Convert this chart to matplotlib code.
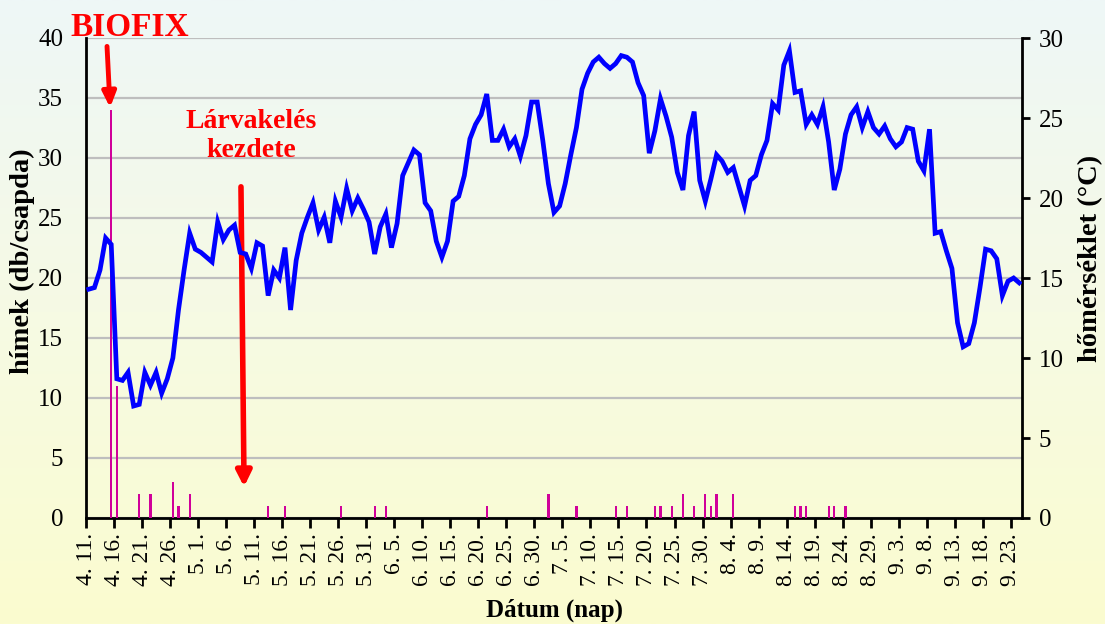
import numpy as np
import pandas as pd
import matplotlib
matplotlib.use('Agg')
import matplotlib.pyplot as plt
from matplotlib.colors import LinearSegmentedColormap

plt.rcParams['font.family'] = ['Liberation Serif', 'DejaVu Serif']

# napi középhőmérséklet (°C), 4.11.-től naponta
start = '2003-04-11'
temperature = [
    14.3, 14.4, 15.5, 17.5, 17.1, 8.7, 8.6, 9.1, 7.0, 7.1,
    9.1, 8.3, 9.1, 7.8, 8.7, 10.0, 13.0, 15.5, 17.8, 16.8,
    16.6, 16.3, 16.0, 18.5, 17.4, 18.0, 18.3, 16.6, 16.5, 15.6,
    17.2, 17.0, 13.9, 15.5, 15.0, 16.9, 13.0, 16.1, 17.8, 18.8,
    19.7, 18.0, 18.8, 17.2, 19.8, 18.8, 20.6, 19.2, 20.0, 19.3,
    18.5, 16.5, 18.2, 19.0, 16.9, 18.4, 21.4, 22.2, 23.0, 22.7,
    19.7, 19.2, 17.3, 16.3, 17.3, 19.8, 20.1, 21.4, 23.7, 24.6,
    25.2, 26.5, 23.6, 23.6, 24.3, 23.2, 23.7, 22.6, 23.9, 26.0,
    26.0, 23.6, 20.9, 19.1, 19.5, 20.9, 22.7, 24.4, 26.8, 27.8,
    28.5, 28.8, 28.4, 28.1, 28.4, 28.9, 28.8, 28.5, 27.2, 26.4,
    22.8, 24.2, 26.2, 25.1, 23.8, 21.6, 20.5, 23.9, 25.4, 21.1,
    19.8, 21.2, 22.7, 22.3, 21.6, 21.9, 20.7, 19.5, 21.1, 21.4,
    22.7, 23.6, 25.9, 25.5, 28.3, 29.2, 26.6, 26.7, 24.6, 25.2,
    24.6, 25.7, 23.5, 20.5, 21.8, 24.0, 25.2, 25.7, 24.4, 25.4,
    24.4, 24.0, 24.5, 23.7, 23.2, 23.5, 24.4, 24.3, 22.3, 21.7,
    24.3, 17.8, 17.9, 16.7, 15.6, 12.2, 10.7, 10.9, 12.2, 14.4,
    16.8, 16.7, 16.2, 13.9, 14.8, 15.0, 14.7,
]

# csapdafogások (hímek, db/csapda)
catch_dates = ['04-15', '04-16', '04-20', '04-22', '04-26', '04-27', '04-29',
               '05-13', '05-16', '05-26', '06-01', '06-03', '06-21', '07-02',
               '07-07', '07-14', '07-16', '07-21', '07-22', '07-24', '07-26',
               '07-28', '07-30', '07-31', '08-01', '08-04', '08-15', '08-16',
               '08-17', '08-21', '08-22', '08-24']
catch_counts = [34, 11, 2, 2, 3, 1, 2,
                1, 1, 1, 1, 1, 1, 2,
                1, 1, 1, 1, 1, 1, 2,
                1, 2, 1, 2, 2, 1, 1,
                1, 1, 1, 1]

t0 = pd.Timestamp(start)
x_temp = np.arange(len(temperature)) + 0.5
x_catch = np.array([(pd.Timestamp('2003-' + d) - t0).days for d in catch_dates]) + 0.5

tick_pos = np.arange(0, 166, 5)
tick_lab = [f'{d.month}. {d.day}.' for d in pd.date_range(t0, periods=len(tick_pos), freq='5D')]

fig = plt.figure(figsize=(11.05, 6.24), dpi=100)

# háttér színátmenet
bg = fig.add_axes([0, 0, 1, 1], zorder=-10)
cmap = LinearSegmentedColormap.from_list('bg', ['#EEF7F7', '#F6FAE4', '#FBFCCF'])
bg.imshow(np.linspace(0, 1, 256).reshape(-1, 1), aspect='auto', cmap=cmap,
          extent=[0, 1, 0, 1])
bg.axis('off')

ax = fig.add_axes([86 / 1105, 1 - 518 / 624, 936 / 1105, 480 / 624])
ax.patch.set_alpha(0)
ax.bar(x_catch, catch_counts, width=0.4, color='#D0009A', zorder=3)
ax.set_ylim(0, 40)
ax.set_xlim(0, 167)
ax.set_yticks(np.arange(0, 41, 5))
ax.yaxis.grid(True, color='#BEBEBE', lw=1.6)
ax.set_axisbelow(True)
ax.tick_params(axis='y', length=0, labelsize=18, pad=16.5)
ax.set_xticks(tick_pos)
ax.set_xticklabels(tick_lab, rotation=90, fontsize=17)
ax.tick_params(axis='x', length=7, width=2, direction='out', pad=4)
for s in ['top', 'right']:
    ax.spines[s].set_visible(False)
for s in ['left', 'bottom']:
    ax.spines[s].set_linewidth(2)
ax.set_ylabel('hímek (db/csapda)', fontsize=20.5, fontweight='bold')
ax.yaxis.set_label_coords(-0.068, 0.535)
ax.yaxis.label.set_va('center')
ax.set_xlabel('Dátum (nap)', fontsize=18, fontweight='bold')
ax.xaxis.set_label_coords(0.5, -0.192)
ax.xaxis.label.set_va('center')

ax2 = ax.twinx()
ax2.plot(x_temp, temperature, color='#0000FF', lw=3.4, solid_joinstyle='miter', zorder=5)
ax2.set_ylim(0, 30)
ax2.set_yticks(np.arange(0, 31, 5))
ax2.tick_params(axis='y', length=6, width=2, labelsize=18, pad=6)
ax2.spines['right'].set_linewidth(2)
for s in ['top', 'left', 'bottom']:
    ax2.spines[s].set_visible(False)
ax2.set_ylabel('hőmérséklet (°C)', fontsize=20.5, fontweight='bold')
ax2.yaxis.set_label_coords(1.073, 0.54)
ax2.yaxis.label.set_va('center')

# feliratok és nyilak
ax.text(7.8, 40.85, 'BIOFIX', color='red', fontsize=24, fontweight='bold',
        ha='center', va='center', clip_on=False)
ax.annotate('', xy=(4.3, 34.2), xytext=(3.75, 39.3),
            arrowprops=dict(arrowstyle='-|>,head_width=0.4,head_length=0.9',
                            color='red', lw=3.5, shrinkA=0, shrinkB=0), zorder=6)
ax.text(29.4, 31.8, 'Lárvakelés\nkezdete', color='red', fontsize=20, fontweight='bold',
        ha='center', va='center', linespacing=1.2)
ax.annotate('', xy=(28.2, 2.6), xytext=(27.65, 27.6),
            arrowprops=dict(arrowstyle='-|>,head_width=0.45,head_length=0.9',
                            color='red', lw=4, shrinkA=0, shrinkB=0), zorder=6)

fig.savefig('out.png', dpi=100)
